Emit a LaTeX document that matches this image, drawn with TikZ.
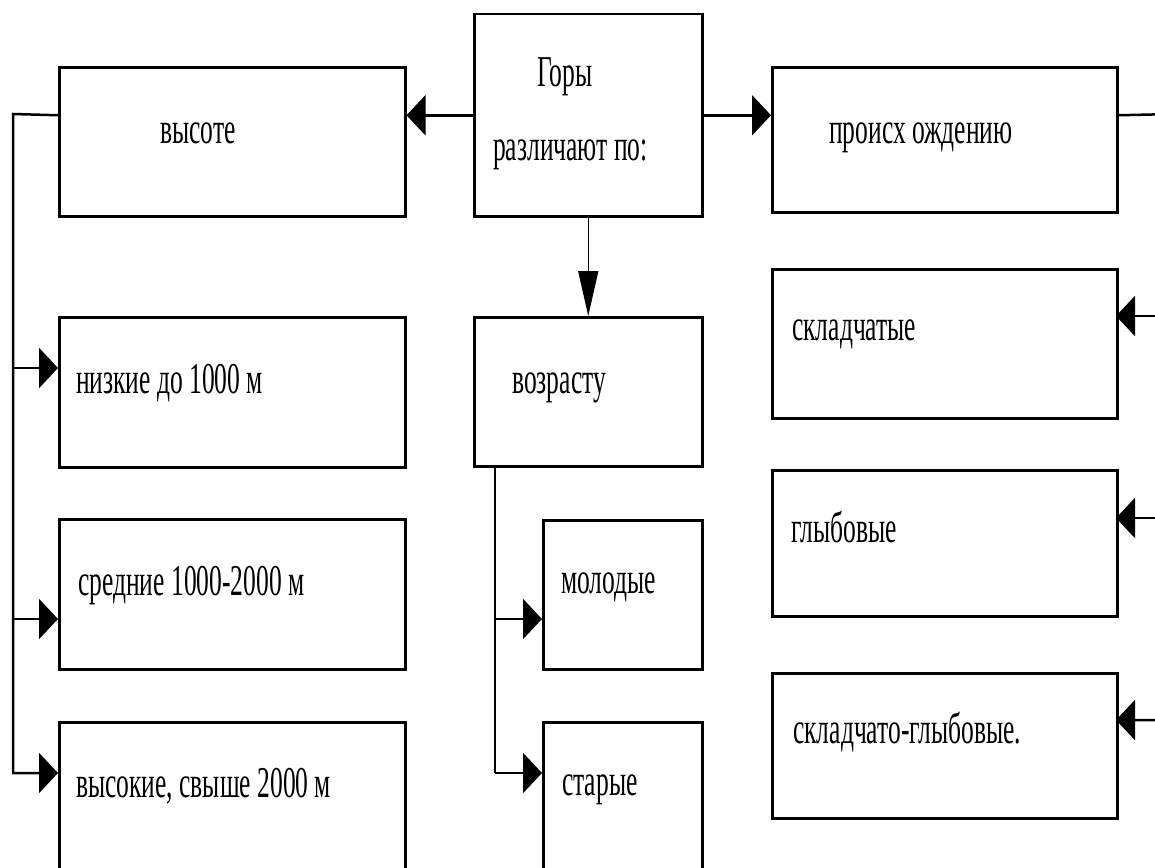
\documentclass[tikz,border=0pt]{standalone}
\usepackage{fontspec}
\setmainfont{Liberation Serif}[FakeStretch=0.58]
\usetikzlibrary{arrows.meta}
\tikzset{
  box/.style={draw, line width=2.5pt, inner sep=0pt, anchor=north west},
  txt/.style={anchor=base west, inner sep=0pt, font=\fontsize{44}{50}\selectfont},
  conn/.style={line width=2.5pt, line join=miter},
  thin conn/.style={line width=1.5pt},
  htip/.style={-{Triangle[length=19pt,width=40pt]}},
  vtip/.style={-{Triangle[length=45pt,width=20pt]}}
}
\begin{document}
\begin{tikzpicture}[x=1pt,y=-1pt]
\useasboundingbox (0,0) rectangle (1155,867);
\fill[white] (0,0) rectangle (1155,867);
\clip (0,0) rectangle (1155,867);
% boxes
\node[box, minimum width=228pt, minimum height=202pt] (gory) at (473,13) {};
\node[box, minimum width=346pt, minimum height=149pt] (vysote) at (58,66) {};
\node[box, minimum width=345pt, minimum height=145pt] (proish) at (771,66) {};
\node[box, minimum width=228pt, minimum height=149pt] (vozrast) at (473,316) {};
\node[box, minimum width=346pt, minimum height=150pt] (nizkie) at (58,316) {};
\node[box, minimum width=346pt, minimum height=150pt] (srednie) at (58,518) {};
\node[box, minimum width=346pt, minimum height=180pt] (vysokie) at (58,721) {};
\node[box, minimum width=345pt, minimum height=149pt] (skladch) at (771,268) {};
\node[box, minimum width=345pt, minimum height=146pt] (glyb) at (771,469) {};
\node[box, minimum width=345pt, minimum height=145pt] (skgl) at (771,672) {};
\node[box, minimum width=159pt, minimum height=149pt] (molod) at (542,519) {};
\node[box, minimum width=159pt, minimum height=180pt] (stary) at (542,721) {};
% texts
\node[txt] (goryA) at (537,86) {Горы};
\node[txt] (goryB) at (493,160) {различают по:};
\node[txt] (vysoteT) at (160,143) {высоте};
\node[txt] (proishT) at (829,143) {происх ождению};
\node[txt] (vozrastT) at (512,393) {возрасту};
\node[txt] (nizkieT) at (76,393) {низкие до 1000 м};
\node[txt] (srednieT) at (78,595) {средние 1000-2000 м};
\node[txt] (vysokieT) at (76,797) {высокие, свыше 2000 м};
\node[txt] (skladchT) at (792,340) {складчатые};
\node[txt] (glybT) at (791,542) {глыбовые};
\node[txt] (skglT) at (793,743) {складчато-глыбовые.};
\node[txt] (molodT) at (561,593) {молодые};
\node[txt] (staryT) at (562,795) {старые};
% coordinates
\coordinate (ltrunk) at (13,114);
\coordinate (rtrunk) at (1175,114);
\coordinate (vtrunk) at (495,465);
\coordinate (nizIn) at (58,368);
\coordinate (sredIn) at (58,619);
\coordinate (vysIn) at (58,773);
\coordinate (sklIn) at (1116,316);
\coordinate (glyIn) at (1116,518);
\coordinate (skgIn) at (1116,720);
\coordinate (molIn) at (542,619);
\coordinate (staIn) at (542,773);
% connectors
\draw[conn,htip] (gory.west) -- (gory.west -| vysote.east);
\draw[conn,htip] (gory.east) -- (gory.east -| proish.west);
\draw[thin conn,vtip] (gory.south) -- (vozrast.north);
\draw[conn,htip] (gory.west -| vysote.west) -- (ltrunk) |- (vysIn);
\draw[conn,htip] (ltrunk) |- (nizIn);
\draw[conn,htip] (ltrunk) |- (sredIn);
\draw[conn,htip] (gory.east -| proish.east) -- (rtrunk) |- (skgIn);
\draw[conn,htip] (rtrunk) |- (sklIn);
\draw[conn,htip] (rtrunk) |- (glyIn);
\draw[thin conn] (vtrunk) -- (vtrunk |- staIn);
\draw[conn,htip] (vtrunk |- molIn) -- (molIn);
\draw[conn,htip] (vtrunk |- staIn) -- (staIn);
\end{tikzpicture}
\end{document}
